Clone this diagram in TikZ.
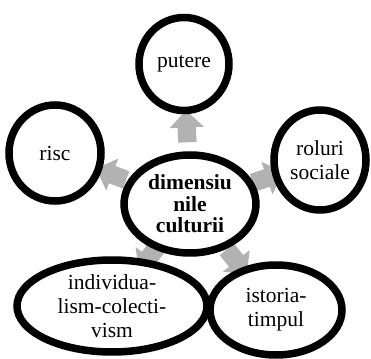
\documentclass[tikz,border=0pt]{standalone}
\usepackage{fontspec}
\setmainfont{Liberation Serif}
\usetikzlibrary{shapes.geometric,shapes.arrows,backgrounds,shadows}
\definecolor{arrgray}{HTML}{B2B2B2}
\begin{document}
\begin{tikzpicture}[x=1pt,y=1pt,
  circ/.style={ellipse, draw=black, line width=7.5pt, fill=white, inner sep=0pt,
    align=center, font=\fontsize{21.5}{24}\selectfont,
    drop shadow={opacity=0.25, shadow xshift=1.5pt, shadow yshift=-2pt}},
  arr/.style={single arrow, fill=arrgray, draw=none, minimum height=32pt,
    minimum width=0pt, single arrow head extend=8pt, inner sep=9pt,
    sloped, allow upside down}]
\useasboundingbox (0,0) rectangle (371,358);
\node[circ, minimum width=90pt, minimum height=93pt] (P) at (184,294) {putere};
\node[circ, minimum width=92pt, minimum height=96pt] (R) at (55,205) {risc};
\node[circ, minimum width=92pt, minimum height=100pt] (S) at (320,198) {roluri\\sociale};
\node[circ, minimum width=132pt, minimum height=98pt, font=\fontsize{21.5}{21.5}\selectfont\bfseries] (C) at (190,154) {dimensiu\\nile\\culturii};
\node[circ, minimum width=190pt, minimum height=92pt] (I) at (112,52) {individua-\\lism-colecti-\\vism};
\node[circ, minimum width=132pt, minimum height=90pt] (T) at (276,48) {istoria-\\timpul};
\begin{scope}[on background layer]
  \path (C) -- node[arr, pos=0.55] {} (P);
  \path (C) -- node[arr, pos=0.47] {} (R);
  \path (C) -- node[arr, pos=0.53] {} (S);
  \path (C) -- node[arr, pos=0.5] {} (I);
  \path (C) -- node[arr, pos=0.5] {} (T);
\end{scope}
\end{tikzpicture}
\end{document}
